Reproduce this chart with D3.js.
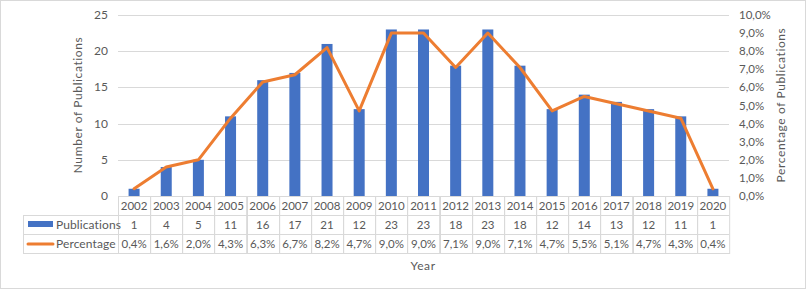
<!DOCTYPE html>
<meta charset="utf-8">
<script src="https://cdn.jsdelivr.net/npm/d3@7"></script>
<style>
body { margin: 0; background: #fff; }
text { font-family: Lato, "Open Sans", sans-serif; font-size: 12px; fill: #595959; }
.num { font-size: 11.5px; }
.lbl { letter-spacing: 0.6px; }
.key { letter-spacing: 0.1px; }
.grid line { stroke: #d9d9d9; }
.cell { stroke: #d9d9d9; fill: none; }
</style>
<body>
<script>

let width = 806,
    height = 289;

let years = ['2002','2003','2004','2005','2006','2007','2008','2009','2010','2011','2012','2013','2014','2015','2016','2017','2018','2019','2020'];
let publications = [1, 4, 5, 11, 16, 17, 21, 12, 23, 23, 18, 23, 18, 12, 14, 13, 12, 11, 1];
let percentage = [0.4, 1.6, 2.0, 4.3, 6.3, 6.7, 8.2, 4.7, 9.0, 9.0, 7.1, 9.0, 7.1, 4.7, 5.5, 5.1, 4.7, 4.3, 0.4];
let leftTicks = [0, 5, 10, 15, 20, 25];
let rightTicks = [0, 1, 2, 3, 4, 5, 6, 7, 8, 9, 10];

let fmtPct = v => v.toFixed(1).replace('.', ',') + '%';

let svg = d3.select("body").append("svg")
    .attr("width", width)
    .attr("height", height);

svg.append("rect")
    .attr("x", 0.5).attr("y", 0.5)
    .attr("width", width - 1).attr("height", height - 1)
    .attr("fill", "#fff").attr("stroke", "#d9d9d9");

let x = d3.scaleBand().domain(years).range([118, 729]).paddingInner(0).paddingOuter(0);
let y = d3.scaleLinear().domain([0, 25]).range([196, 15]);
let y2 = d3.scaleLinear().domain([0, 10]).range([196, 15]);

// gridlines
svg.append("g").attr("class", "grid")
  .selectAll("line").data(leftTicks.slice(1)).enter().append("line")
    .attr("x1", 118).attr("x2", 729)
    .attr("y1", d => Math.round(y(d)) + 0.5)
    .attr("y2", d => Math.round(y(d)) + 0.5);

// left axis labels
svg.append("g").selectAll("text").data(leftTicks).enter().append("text")
    .attr("x", 108).attr("y", d => y(d) + 4)
    .attr("text-anchor", "end")
    .text(d => d);

// right axis labels
svg.append("g").selectAll("text").data(rightTicks).enter().append("text")
    .attr("class", "num")
    .attr("x", 739).attr("y", d => y2(d) + 4)
    .text(d => fmtPct(d));

// bars
let bw = 11;
svg.append("g").selectAll("rect").data(years).enter().append("rect")
    .attr("x", d => x(d) + x.bandwidth() / 2 - bw / 2)
    .attr("y", (d, i) => y(publications[i]))
    .attr("width", bw)
    .attr("height", (d, i) => 196 - y(publications[i]))
    .attr("fill", "#4472c4");

// line
let line = d3.line()
    .x((d, i) => x(years[i]) + x.bandwidth() / 2)
    .y(d => y2(d));

svg.append("path")
    .datum(percentage)
    .attr("d", line)
    .attr("fill", "none")
    .attr("stroke", "#ed7d31")
    .attr("stroke-width", 3)
    .attr("stroke-linejoin", "round")
    .attr("stroke-linecap", "round");

// data table
let rowY = [196, 215, 234, 253];
let t = svg.append("g");
t.selectAll("rect.yr").data(years).enter().append("rect")
    .attr("class", "cell")
    .attr("x", d => Math.round(x(d)) + 0.5).attr("y", rowY[0] + 0.5)
    .attr("width", x.bandwidth()).attr("height", rowY[3] - rowY[0]);
t.append("rect").attr("class", "cell")
    .attr("x", 23.5).attr("y", rowY[1] + 0.5)
    .attr("width", 95).attr("height", rowY[3] - rowY[1]);
[rowY[1], rowY[2]].forEach(r => {
  t.append("line").attr("class", "cell")
    .attr("x1", 23).attr("x2", 729)
    .attr("y1", r + 0.5).attr("y2", r + 0.5);
});

t.selectAll("text.yr").data(years).enter().append("text")
    .attr("class", "num")
    .attr("x", d => x(d) + x.bandwidth() / 2).attr("y", rowY[0] + 14)
    .attr("text-anchor", "middle").text(d => d);
t.selectAll("text.pub").data(publications).enter().append("text")
    .attr("class", "num")
    .attr("x", (d, i) => x(years[i]) + x.bandwidth() / 2).attr("y", rowY[1] + 14)
    .attr("text-anchor", "middle").text(d => d);
t.selectAll("text.pct").data(percentage).enter().append("text")
    .attr("class", "num")
    .attr("x", (d, i) => x(years[i]) + x.bandwidth() / 2).attr("y", rowY[2] + 14)
    .attr("text-anchor", "middle").text(d => fmtPct(d));

// legend keys in table
t.append("rect").attr("x", 28).attr("y", 221).attr("width", 25).attr("height", 6).attr("fill", "#4472c4");
t.append("text").attr("class", "key").attr("x", 56).attr("y", rowY[1] + 14).text("Publications");
t.append("line").attr("x1", 28).attr("x2", 53).attr("y1", 244).attr("y2", 244)
    .attr("stroke", "#ed7d31").attr("stroke-width", 3).attr("stroke-linecap", "round");
t.append("text").attr("class", "key").attr("x", 56).attr("y", rowY[2] + 14).text("Percentage");

// axis titles
svg.append("text").attr("class", "lbl")
    .attr("transform", "translate(82,105) rotate(-90)")
    .attr("text-anchor", "middle")
    .text("Number of Publications");
svg.append("text").attr("class", "lbl")
    .attr("transform", "translate(785,105) rotate(-90)")
    .attr("text-anchor", "middle")
    .text("Percentage of Publications");
svg.append("text").attr("class", "lbl")
    .attr("x", 423).attr("y", 270)
    .attr("text-anchor", "middle")
    .text("Year");

</script>
